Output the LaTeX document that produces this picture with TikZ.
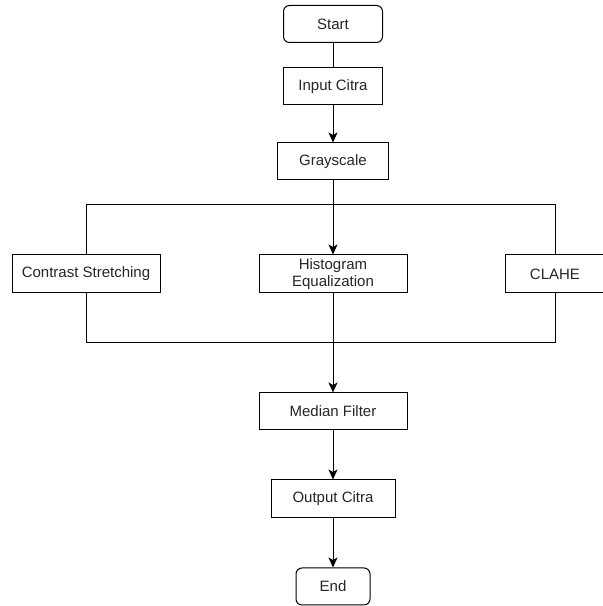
\documentclass[tikz,border=0pt]{standalone}
\usepackage{fontspec}
\setmainfont{Liberation Sans}
\usetikzlibrary{arrows.meta}
\begin{document}
\begin{tikzpicture}[x=1pt,y=1pt,
  box/.style={draw=black, line width=1pt, fill=white, minimum height=37pt, inner sep=0pt,
    font=\fontsize{15}{17.5}\selectfont, text=black!85, align=center},
  term/.style={box, rounded corners=6pt},
  conn/.style={line width=1pt, draw=black},
  arr/.style={conn, -{Stealth[length=10pt,width=9pt,inset=2.5pt]}}]
\useasboundingbox (0,0) rectangle (603,606);
\node[term, minimum width=99pt] (start) at (333,582) {Start};
\node[box, minimum width=99pt] (input) at (333,519.5) {Input Citra};
\node[box, minimum width=111pt] (gray) at (333,444.5) {Grayscale};
\node[box, minimum width=148pt, minimum height=38pt] (cs) at (86,332) {Contrast Stretching};
\node[box, minimum width=148pt, minimum height=38pt] (hist) at (333,332) {Histogram\\Equalization};
\node[box, minimum width=100pt, minimum height=38pt] (cl) at (555,332) {CLAHE};
\node[box, minimum width=148pt] (median) at (333,194.5) {Median Filter};
\node[box, minimum width=124pt, minimum height=38pt] (output) at (333,107) {Output Citra};
\node[term, minimum width=74pt] (end) at (333,19.5) {End};
\coordinate (topy) at (0,401);
\coordinate (boty) at (0,263);
\draw[conn] (start) -- (input);
\draw[arr] (input) -- (gray);
\draw[conn] (cs.north) -- (cs.north |- topy) -- (cl.north |- topy) -- (cl.north);
\draw[conn] (cs.south) -- (cs.south |- boty) -- (cl.south |- boty) -- (cl.south);
\draw[arr] (gray) -- (hist);
\draw[arr] (hist) -- (median);
\draw[arr] (median) -- (output);
\draw[arr] (output) -- (end);
\end{tikzpicture}
\end{document}
